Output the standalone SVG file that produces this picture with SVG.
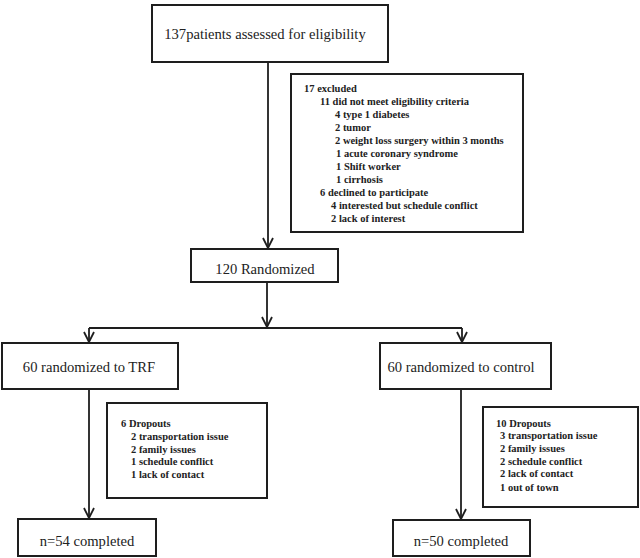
<svg xmlns="http://www.w3.org/2000/svg" width="640" height="558" viewBox="0 0 640 558">
<style>
.box{fill:#fff;stroke:#1e1e1e;stroke-width:2}
.main{font-family:"Liberation Serif","Times New Roman",serif;font-size:14.6px;fill:#222;text-anchor:middle}
.small{font-family:"Liberation Serif","Times New Roman",serif;font-size:10.5px;font-weight:bold;fill:#222}
.conn{stroke:#1e1e1e;stroke-width:1.8;fill:none}
</style>
<defs>
<marker id="arr" viewBox="0 0 12 12" markerWidth="12" markerHeight="12" refX="11" refY="6" orient="auto" markerUnits="userSpaceOnUse">
<path d="M1,1 L11,6 L1,11" fill="none" stroke="#1e1e1e" stroke-width="1.8"/>
</marker>
</defs>
<rect width="640" height="558" fill="#fff"/>
<g id="connectors">
<line class="conn" x1="268" y1="62" x2="268" y2="248" marker-end="url(#arr)"/>
<line class="conn" x1="267" y1="282" x2="267" y2="327" marker-end="url(#arr)"/>
<line class="conn" x1="89" y1="328" x2="462" y2="328"/>
<line class="conn" x1="89" y1="328" x2="89" y2="342" marker-end="url(#arr)"/>
<line class="conn" x1="462" y1="328" x2="462" y2="342" marker-end="url(#arr)"/>
<line class="conn" x1="89" y1="389" x2="89" y2="518" marker-end="url(#arr)"/>
<line class="conn" x1="461" y1="389" x2="461" y2="519" marker-end="url(#arr)"/>
</g>
<g id="assessed">
<rect class="box" x="152" y="5" width="236" height="57"/>
<text class="main" x="265" y="39">137patients assessed for eligibility</text>
</g>
<g id="excluded">
<rect class="box" x="291" y="74" width="232" height="158"/>
<text class="small">
<tspan x="304" y="92">17 excluded</tspan>
<tspan x="320" y="105">11 did not meet eligibility criteria</tspan>
<tspan x="335" y="118">4 type 1 diabetes</tspan>
<tspan x="335" y="131">2 tumor</tspan>
<tspan x="335" y="144">2 weight loss surgery within 3 months</tspan>
<tspan x="336" y="157">1 acute coronary syndrome</tspan>
<tspan x="336" y="170">1 Shift worker</tspan>
<tspan x="336" y="183">1 cirrhosis</tspan>
<tspan x="320" y="196">6 declined to participate</tspan>
<tspan x="331" y="209">4 interested but schedule conflict</tspan>
<tspan x="331" y="222">2 lack of interest</tspan>
</text>
</g>
<g id="randomized">
<rect class="box" x="191" y="249" width="147" height="33"/>
<text class="main" x="265" y="274">120 Randomized</text>
</g>
<g id="trf">
<rect class="box" x="2" y="343" width="176" height="46"/>
<text class="main" x="89" y="372">60 randomized to TRF</text>
</g>
<g id="control">
<rect class="box" x="380" y="343" width="171" height="46"/>
<text class="main" x="461" y="372">60 randomized to control</text>
</g>
<g id="dropouts-trf">
<rect class="box" x="107" y="403" width="160" height="95"/>
<text class="small">
<tspan x="121" y="427">6 Dropouts</tspan>
<tspan x="131" y="440">2 transportation issue</tspan>
<tspan x="131" y="453">2 family issues</tspan>
<tspan x="131" y="465">1 schedule conflict</tspan>
<tspan x="131" y="478">1 lack of contact</tspan>
</text>
</g>
<g id="dropouts-control">
<rect class="box" x="483" y="407" width="155" height="100"/>
<text class="small">
<tspan x="496" y="427">10 Dropouts</tspan>
<tspan x="500" y="439">3 transportation issue</tspan>
<tspan x="500" y="452">2 family issues</tspan>
<tspan x="500" y="465">2 schedule conflict</tspan>
<tspan x="500" y="477">2 lack of contact</tspan>
<tspan x="500" y="491">1 out of town</tspan>
</text>
</g>
<g id="completed-trf">
<rect class="box" x="18" y="519" width="138" height="37"/>
<text class="main" x="87" y="546">n=54 completed</text>
</g>
<g id="completed-control">
<rect class="box" x="393" y="520" width="137" height="36"/>
<text class="main" x="461" y="546">n=50 completed</text>
</g>
</svg>
